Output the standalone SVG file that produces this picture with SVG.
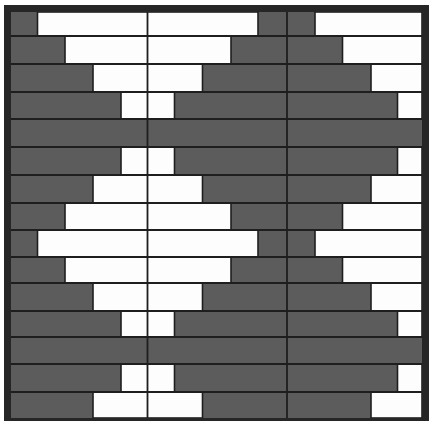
<svg xmlns="http://www.w3.org/2000/svg" width="430" height="421" viewBox="0 0 430 421">
<style>
.bg{fill:#ffffff}
.dark{fill:#5c5c5c}
.w{fill:#fdfdfd;stroke:#1e1e1e;stroke-width:1.6}
.ln{stroke:#1e1e1e;stroke-width:1.8;fill:none}
.frame{fill:none;stroke:#262626;stroke-width:7}
</style>
<rect class="bg" x="0" y="0" width="430" height="421"/>
<g id="field">
<rect class="dark" x="11" y="12" width="411" height="406"/>
</g>
<g id="white-cells">
<!-- row 1 -->
<rect class="w" x="37.5" y="12" width="220.5" height="24"/>
<rect class="w" x="315" y="12" width="107" height="24"/>
<!-- row 2 -->
<rect class="w" x="65" y="36" width="166" height="28"/>
<rect class="w" x="342.5" y="36" width="79.5" height="28"/>
<!-- row 3 -->
<rect class="w" x="93" y="64" width="109.5" height="28"/>
<rect class="w" x="371" y="64" width="51" height="28"/>
<!-- row 4 -->
<rect class="w" x="121" y="92" width="53.5" height="27"/>
<rect class="w" x="397.5" y="92" width="24.5" height="27"/>
<!-- row 6 -->
<rect class="w" x="121" y="147" width="53.5" height="28"/>
<rect class="w" x="397.5" y="147" width="24.5" height="28"/>
<!-- row 7 -->
<rect class="w" x="93" y="175" width="109.5" height="28"/>
<rect class="w" x="371" y="175" width="51" height="28"/>
<!-- row 8 -->
<rect class="w" x="65" y="203" width="166" height="27"/>
<rect class="w" x="342.5" y="203" width="79.5" height="27"/>
<!-- row 9 -->
<rect class="w" x="37.5" y="230" width="220.5" height="27"/>
<rect class="w" x="315" y="230" width="107" height="27"/>
<!-- row 10 -->
<rect class="w" x="65" y="257" width="166" height="26"/>
<rect class="w" x="342.5" y="257" width="79.5" height="26"/>
<!-- row 11 -->
<rect class="w" x="93" y="283" width="109.5" height="28"/>
<rect class="w" x="371" y="283" width="51" height="28"/>
<!-- row 12 -->
<rect class="w" x="121" y="311" width="53.5" height="26"/>
<rect class="w" x="397.5" y="311" width="24.5" height="26"/>
<!-- row 14 -->
<rect class="w" x="121" y="364" width="53.5" height="28"/>
<rect class="w" x="397.5" y="364" width="24.5" height="28"/>
<!-- row 15 -->
<rect class="w" x="93" y="392" width="109.5" height="26"/>
<rect class="w" x="371" y="392" width="51" height="26"/>
</g>
<g id="grid-lines">
<path class="ln" d="M11 36H422M11 64H422M11 92H422M11 119H422M11 147H422M11 175H422M11 203H422M11 230H422M11 257H422M11 283H422M11 311H422M11 337H422M11 364H422M11 392H422"/>
<path class="ln" d="M147.5 12V418M287 12V418"/>
</g>
<g id="frame">
<rect class="frame" x="7.5" y="8.5" width="418" height="413"/>
</g>
</svg>
